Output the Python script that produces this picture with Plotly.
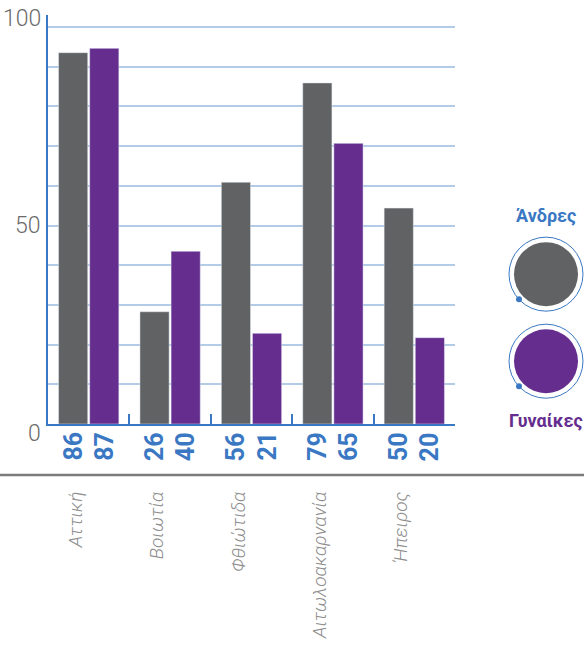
import plotly.graph_objects as go

regions = ["Αττική", "Βοιωτία", "Φθιώτιδα", "Αιτωλοακαρνανία", "Ήπειρος"]
men = [86, 26, 56, 79, 50]
women = [87, 40, 21, 65, 20]
y_ticks = [0, 50, 100]

MEN_COLOR = "#616263"
WOMEN_COLOR = "#652d8e"
BLUE = "#3a78c3"
GRID = "#b3cbe6"

W, H = 584, 651
L, T = 48, 15
R = W - 455
B = H - 428.5
pw, ph = W - L - R, H - T - B


def px(x):
    # screen pixel -> paper x
    return (x - L) / pw


def py(y):
    # screen pixel -> paper y
    return (H - B - y) / ph


fig = go.Figure()
fig.add_trace(go.Bar(x=regions, y=men, name="Άνδρες", marker_color=MEN_COLOR, yaxis="y2"))
fig.add_trace(go.Bar(x=regions, y=women, name="Γυναίκες", marker_color=WOMEN_COLOR, yaxis="y2"))

annotations = []
# value labels under each bar
for r, m, w in zip(regions, men, women):
    for val, shift in ((m, -15.6), (w, 15.6)):
        annotations.append(dict(
            x=r, y=0, xref="x", yref="y", xshift=shift, yshift=-6,
            text=f"<b>{val}</b>", textangle=-90, showarrow=False,
            xanchor="center", yanchor="top",
            font=dict(family="Liberation Sans Narrow, Roboto, sans-serif", size=25, color=BLUE),
        ))

# y axis labels
for v, dy in zip(y_ticks, (-9, 0, 9)):
    annotations.append(dict(
        x=0, y=v, xref="paper", yref="y", xshift=-5, yshift=dy,
        text=str(v), showarrow=False, xanchor="right", yanchor="middle",
        font=dict(family="Roboto, sans-serif", size=23, color="#6b6b6b", weight=300),
    ))

# legend texts
annotations.append(dict(
    x=px(546), y=py(218), xref="paper", yref="paper", text="<b>Άνδρες</b>", showarrow=False,
    xanchor="center", yanchor="middle",
    font=dict(family="Roboto, sans-serif", size=18, color=BLUE),
))
annotations.append(dict(
    x=px(546), y=py(425), xref="paper", yref="paper", text="<b>Γυναίκες</b>", showarrow=False,
    xanchor="center", yanchor="middle",
    font=dict(family="Roboto, sans-serif", size=18, color=WOMEN_COLOR),
))

shapes = []
# separator line
shapes.append(dict(type="line", xref="paper", yref="paper", x0=px(0), x1=px(W), y0=py(480), y1=py(480),
                   line=dict(color="#7a7a7a", width=2.5)))
for cy, col in ((277, MEN_COLOR), (365, WOMEN_COLOR)):
    cx = px(546)
    yy = py(cy)
    shapes.append(dict(type="circle", xref="paper", yref="paper", xsizemode="pixel", ysizemode="pixel",
                       xanchor=cx, yanchor=yy, x0=-37, x1=37, y0=-37, y1=37,
                       line=dict(color=BLUE, width=1), fillcolor="rgba(0,0,0,0)"))
    shapes.append(dict(type="circle", xref="paper", yref="paper", xsizemode="pixel", ysizemode="pixel",
                       xanchor=cx, yanchor=yy, x0=-32, x1=32, y0=-32, y1=32,
                       line=dict(width=0), fillcolor=col))
    shapes.append(dict(type="circle", xref="paper", yref="paper", xsizemode="pixel", ysizemode="pixel",
                       xanchor=cx, yanchor=yy, x0=-30, x1=-24, y0=-28, y1=-22,
                       line=dict(width=0), fillcolor=BLUE))

fig.update_layout(
    width=W, height=H,
    margin=dict(l=L, r=R, t=T, b=B),
    paper_bgcolor="white", plot_bgcolor="white",
    showlegend=False,
    barmode="group", bargap=0.235, bargroupgap=0.0625,
    xaxis=dict(
        type="category", showline=True, linecolor=BLUE, linewidth=2,
        tickson="boundaries", ticks="inside", ticklen=10, tickcolor=BLUE, tickwidth=2,
        tickangle=-90, ticklabelstandoff=58, ticklabelshift=-13,
        tickfont=dict(family="Roboto, sans-serif", size=19, color="#8c8c8c", style="italic", weight=300),
        showgrid=False,
    ),
    yaxis=dict(
        range=[0, 103.04], tickvals=list(range(0, 101, 10)), showticklabels=False,
        gridcolor=GRID, gridwidth=1.5, showline=True, linecolor=BLUE, linewidth=2,
        zeroline=False, ticks="",
    ),
    yaxis2=dict(range=[0, 94.73], overlaying="y", visible=False),
    annotations=annotations,
    shapes=shapes,
)

# drop the default page margin so the figure sits at the window's corner
page_js = (
    "var s=document.createElement('style');"
    "s.textContent='html,body{margin:0;padding:0;width:584px;height:651px;overflow:hidden}';"
    "document.head.appendChild(s);"
    "window.scrollTo(0,0);"
)
fig.write_html("out.html", config={"displayModeBar": False}, post_script=page_js)
